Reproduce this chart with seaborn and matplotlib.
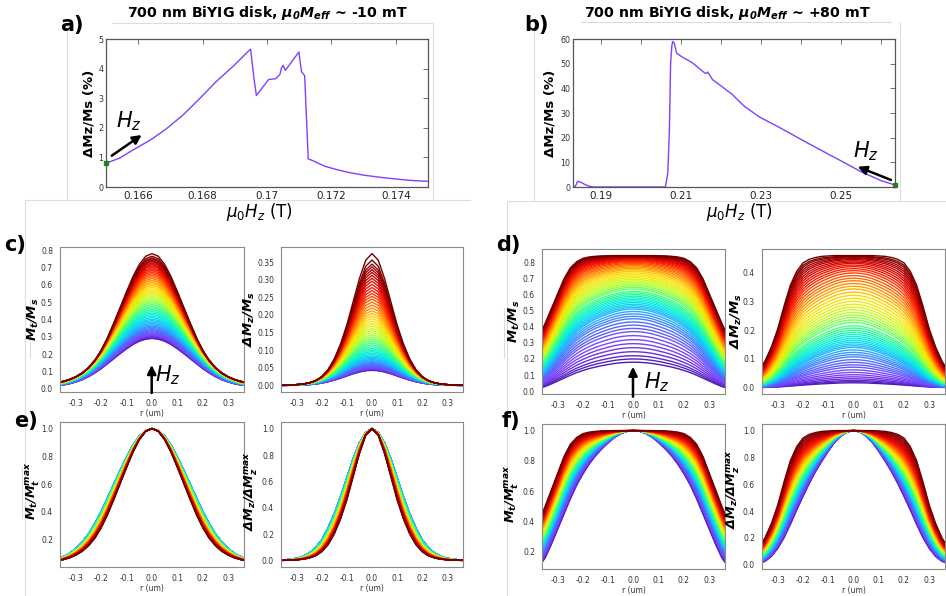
import numpy as np
import pandas as pd
import matplotlib
matplotlib.use("Agg")
import matplotlib.pyplot as plt
import seaborn as sns
from matplotlib.colors import LinearSegmentedColormap
from matplotlib.lines import Line2D
from matplotlib.patches import FancyArrowPatch
from matplotlib.ticker import FormatStrFormatter

# ---------------- data: panel a ----------------
field_a = [0.1650, 0.16543, 0.16585, 0.16637, 0.16688, 0.1674, 0.16792, 0.16843, 0.16895,
           0.16949, 0.1696, 0.16967, 0.17005, 0.17027, 0.1704, 0.17045, 0.1705,
           0.17057, 0.17099, 0.17107, 0.17117, 0.17128, 0.1714, 0.1716, 0.1718,
           0.17216, 0.1725, 0.1730, 0.1735, 0.1740, 0.1745, 0.1750]
dmz_a = [0.80, 0.98, 1.26, 1.58, 1.97, 2.44, 3.00, 3.57, 4.08,
         4.66, 3.63, 3.09, 3.63, 3.66, 3.80, 4.02, 4.11,
         3.94, 4.56, 3.90, 3.76, 0.95, 0.90, 0.80, 0.70,
         0.59, 0.50, 0.40, 0.33, 0.27, 0.22, 0.19]
a_xticks = [0.166, 0.168, 0.170, 0.172, 0.174]
a_xticklabels = ["0.166", "0.168", "0.17", "0.172", "0.174"]
a_yticks = [0, 1, 2, 3, 4, 5]

# ---------------- data: panel b ----------------
field_b = [0.1830, 0.1836, 0.18415, 0.1850, 0.1860, 0.1871, 0.1880, 0.1950, 0.2000,
           0.2061, 0.2067, 0.2071, 0.2074, 0.2077, 0.2079, 0.2083, 0.2089, 0.2100,
           0.2129, 0.2154, 0.2160, 0.2163, 0.2167, 0.2179, 0.2204, 0.2229, 0.2254,
           0.2261, 0.2296, 0.2350, 0.2400, 0.2450, 0.2500, 0.2550, 0.2600, 0.2635]
dmz_b = [0.0, 0.3, 2.3, 1.9, 1.0, 0.3, 0.0, 0.0, 0.0,
         0.0, 5.7, 23.0, 50.0, 57.0, 59.0, 58.4, 54.3, 53.0,
         50.3, 46.9, 46.2, 46.0, 46.6, 43.5, 40.5, 37.4, 33.4,
         32.4, 28.4, 23.8, 19.3, 14.9, 10.6, 6.2, 2.6, 0.8]
b_xticks = [0.19, 0.20, 0.21, 0.22, 0.23, 0.24, 0.25, 0.26]
b_xticklabels = ["0.19", "", "0.21", "", "0.23", "", "0.25", ""]
b_yticks = [0, 10, 20, 30, 40, 50, 60]

# ---------------- data: radial profiles (panels c-f) ----------------
r_half = [0.0, 0.025, 0.05, 0.075, 0.1, 0.125, 0.15, 0.175, 0.2, 0.225,
          0.25, 0.275, 0.3, 0.325, 0.35, 0.3625]
# normalized Mt profiles (low-field / high-field limits) for the -10 mT disk
c_shape_first = [1.0, 0.985, 0.945, 0.88, 0.795, 0.70, 0.60, 0.50, 0.40, 0.315,
                 0.24, 0.18, 0.135, 0.10, 0.075, 0.066]
c_shape_last = [1.0, 0.98, 0.92, 0.83, 0.72, 0.605, 0.49, 0.38, 0.285, 0.21,
                0.155, 0.115, 0.088, 0.068, 0.055, 0.050]
# peak Mt/Ms of every curve (-10 mT disk)
c_peak = [0.290, 0.293, 0.296, 0.300, 0.304, 0.308, 0.313, 0.318, 0.323, 0.329,
          0.335, 0.341, 0.348, 0.355, 0.362, 0.369, 0.377, 0.385, 0.393, 0.401,
          0.410, 0.419, 0.428, 0.437, 0.446, 0.456, 0.466, 0.476, 0.486, 0.496,
          0.506, 0.516, 0.526, 0.536, 0.546, 0.556, 0.566, 0.576, 0.586, 0.596,
          0.606, 0.616, 0.626, 0.636, 0.646, 0.656, 0.665, 0.674, 0.683, 0.692,
          0.701, 0.710, 0.718, 0.726, 0.734, 0.741, 0.748, 0.755, 0.765, 0.780]
# normalized Mt profiles (low-field / high-field limits) for the +80 mT disk
d_shape_first = [1.0, 0.995, 0.98, 0.955, 0.92, 0.88, 0.835, 0.78, 0.715, 0.64,
                 0.55, 0.45, 0.35, 0.25, 0.16, 0.13]
d_shape_last = [1.0, 1.0, 1.0, 1.0, 0.999, 0.998, 0.995, 0.99, 0.98, 0.955,
                0.91, 0.83, 0.72, 0.61, 0.50, 0.45]
# centre Mt/Ms of every curve (+80 mT disk)
d_peak = [0.180, 0.200, 0.220, 0.245, 0.270, 0.295, 0.320, 0.345, 0.370,
          0.390, 0.410, 0.430, 0.450, 0.465, 0.480,
          0.495, 0.510, 0.520, 0.530, 0.540, 0.550, 0.560, 0.570,
          0.580, 0.590, 0.600, 0.610, 0.620, 0.635, 0.645, 0.655, 0.665, 0.675,
          0.685, 0.695, 0.705, 0.715, 0.725, 0.735, 0.745, 0.755,
          0.763, 0.771, 0.779, 0.786, 0.793, 0.800, 0.806,
          0.811, 0.816, 0.820, 0.824, 0.827, 0.830, 0.833, 0.835, 0.837, 0.839, 0.840, 0.842]
r_ticks = [-0.3, -0.2, -0.1, 0.0, 0.1, 0.2, 0.3]

# ---------------- style ----------------
sns.set_style("white")
plt.rcParams["font.family"] = ["DejaVu Sans"]
plt.rcParams["text.color"] = "black"
plt.rcParams["mathtext.fontset"] = "custom"
plt.rcParams["mathtext.rm"] = "DejaVu Sans"
plt.rcParams["mathtext.it"] = "DejaVu Sans:italic"
plt.rcParams["mathtext.bf"] = "DejaVu Sans:bold:italic"
plt.rcParams["mathtext.sf"] = "DejaVu Sans"

line_color = "#8040ff"
family_cmap = LinearSegmentedColormap.from_list(
    "fam", ["#4b1ab0", "#7f3fff", "#4f6bff", "#1fb4ff", "#00f0e0", "#40ff80",
            "#c0ff20", "#ffe000", "#ff8000", "#ff1a00", "#c00000", "#700000"])

W, H = 946, 596
fig = plt.figure(figsize=(W / 100, H / 100), dpi=100)
fig.patch.set_facecolor("white")


def add_ax(l, t, r, b):
    return fig.add_axes([l / W, 1 - b / H, (r - l) / W, (b - t) / H])


def fx(x):
    return x / W


def fy(y):
    return 1 - y / H


# ---------------- faint frame lines of the composed figure ----------------
frame_segments = [
    ((112, 433), (22.5, 22.5)), ((66.7, 66.7), (22.5, 199.5)), ((433, 433), (22.5, 199.5)),
    ((25, 470), (199.5, 199.5)), ((25, 25), (199.5, 596)),
    ((581, 891), (21.7, 21.7)), ((533.7, 533.7), (21.7, 200.7)), ((900, 900), (21.7, 200.7)),
    ((506.7, 946), (200.7, 200.7)), ((506.7, 506.7), (200.7, 596)),
    ((30, 30), (299, 357)), ((21.7, 21.7), (467, 517)),
    ((504, 504), (308, 358)), ((504, 504), (472, 522)),
]
for (xs, ys) in frame_segments:
    fig.add_artist(Line2D([fx(v) for v in xs], [fy(v) for v in ys],
                          color="#dcdcdc", lw=0.8))


def style_big(ax):
    for s in ax.spines.values():
        s.set_color("#555555")
        s.set_linewidth(0.9)
    ax.tick_params(axis="both", direction="in", top=True, right=True,
                   length=3.5, width=0.6, color="#555555")
    ax.tick_params(axis="x", labelsize=7.5, labelcolor="#222222", pad=3)
    ax.tick_params(axis="y", labelsize=5.8, labelcolor="#333333", pad=2)
    ax.set_xlabel("")
    ax.set_ylabel("")


# ---------------- panel a ----------------
ax_a = add_ax(106, 39, 428, 187)
sns.lineplot(x=field_a, y=dmz_a, ax=ax_a, color=line_color, lw=1.0)
ax_a.plot(field_a[0], dmz_a[0], "s", color="#1a8a1a", ms=2.5, clip_on=False)
ax_a.set_xlim(0.165, 0.175)
ax_a.set_ylim(0, 5)
ax_a.set_xticks(a_xticks)
ax_a.set_xticklabels(a_xticklabels)
ax_a.set_yticks(a_yticks)
style_big(ax_a)

# ---------------- panel b ----------------
ax_b = add_ax(573, 39, 895, 187)
sns.lineplot(x=field_b, y=dmz_b, ax=ax_b, color=line_color, lw=1.0)
ax_b.plot(field_b[-1], dmz_b[-1], "s", color="#1a8a1a", ms=2.5, clip_on=False)
ax_b.set_xlim(0.183, 0.2635)
ax_b.set_ylim(0, 60)
ax_b.set_xticks(b_xticks)
ax_b.set_xticklabels(b_xticklabels)
ax_b.set_yticks(b_yticks)
style_big(ax_b)

# titles, labels, arrows for a/b
fig.text(fx(267), fy(13), r"700 nm BiYIG disk, $\mathbf{\mu_0 M_{eff}}$ ~ -10 mT",
         ha="center", va="center", fontsize=10.2, fontweight="bold")
fig.text(fx(727), fy(13), r"700 nm BiYIG disk, $\mathbf{\mu_0 M_{eff}}$ ~ +80 mT",
         ha="center", va="center", fontsize=10.2, fontweight="bold")
fig.text(fx(89), fy(113), "ΔMz/Ms (%)", rotation=90, ha="center", va="center",
         fontsize=9.5, fontweight="bold")
fig.text(fx(550), fy(113), "ΔMz/Ms (%)", rotation=90, ha="center", va="center",
         fontsize=9.5, fontweight="bold")
fig.text(fx(259), fy(212), r"$\mu_0 H_z$ (T)", ha="center", va="center", fontsize=12)
fig.text(fx(739), fy(212), r"$\mu_0 H_z$ (T)", ha="center", va="center", fontsize=12)

for lab, x, y in [("a)", 72, 25), ("b)", 536, 25), ("c)", 15, 245), ("d)", 508, 245),
                  ("e)", 26, 421), ("f)", 511, 421)]:
    fig.text(fx(x), fy(y), lab, ha="center", va="center", fontsize=15, fontweight="bold")


def arrow(tail, head):
    fig.add_artist(FancyArrowPatch(
        (fx(tail[0]), fy(tail[1])), (fx(head[0]), fy(head[1])),
        transform=fig.transFigure, arrowstyle="-|>", mutation_scale=13,
        color="black", lw=1.8, shrinkA=0, shrinkB=0))


arrow((111.7, 155.7), (141.7, 135))
arrow((891, 180), (857.7, 166.7))
arrow((151.7, 393), (151.7, 365))
arrow((633, 396.7), (633, 366.7))
for x, y in [(129, 121), (866, 151), (168, 375), (657, 382)]:
    fig.text(fx(x), fy(y), r"$H_z$", ha="center", va="center", fontsize=15)


# ---------------- profile families ----------------
def build_family(peaks, shape_first, shape_last, mix):
    rh = np.array(r_half)
    r_full = np.concatenate([-rh[:0:-1], rh])
    s0 = np.array(shape_first)
    s1 = np.array(shape_last)
    frames = []
    for i, (amp, m) in enumerate(zip(peaks, mix)):
        half = amp * ((1 - m) * s0 + m * s1)
        prof = np.concatenate([half[:0:-1], half])
        dmz = 1 - np.sqrt(1 - prof ** 2)
        frames.append(pd.DataFrame({"r": r_full, "Mt": prof, "dMz": dmz,
                                    "Mt_n": prof / prof.max(),
                                    "dMz_n": dmz / dmz.max(), "curve": i}))
    return pd.concat(frames, ignore_index=True)


n_c = len(c_peak)
t_c = np.arange(n_c) / (n_c - 1)
df_c = build_family(c_peak, c_shape_first, c_shape_last, np.clip((t_c - 0.3) / 0.7, 0, 1))
n_d = len(d_peak)
t_d = np.arange(n_d) / (n_d - 1)
df_d = build_family(d_peak, d_shape_first, d_shape_last, t_d)

pal_c = [family_cmap(v) for v in t_c]
pal_d = [family_cmap(v) for v in t_d]


def small_panel(box, df, col, pal, yticks, fmt):
    ax = add_ax(*box)
    sns.lineplot(data=df, x="r", y=col, hue="curve", palette=pal, legend=False,
                 ax=ax, lw=1.0, errorbar=None, sort=False)
    for s in ax.spines.values():
        s.set_color("#8a8a8a")
        s.set_linewidth(0.8)
    ax.tick_params(labelsize=5.5, length=3, width=0.6, color="#8a8a8a",
                   labelcolor="#333333", pad=2)
    ax.set_xlim(-0.3625, 0.3625)
    ax.set_xticks(r_ticks)
    ax.xaxis.set_major_formatter(FormatStrFormatter("%.1f"))
    ax.set_yticks(yticks)
    ax.yaxis.set_major_formatter(FormatStrFormatter(fmt))
    ax.set_xlabel("r (um)", fontsize=5.5, labelpad=1.0, color="#333333")
    ax.set_ylabel("")
    return ax


small_panel((60, 247, 244, 392), df_c, "Mt", pal_c, [0, .1, .2, .3, .4, .5, .6, .7, .8], "%.1f")
small_panel((281, 247, 463, 392), df_c, "dMz", pal_c,
            [0, .05, .1, .15, .2, .25, .3, .35], "%.2f")
small_panel((542, 249, 725, 394), df_d, "Mt", pal_d, [0, .1, .2, .3, .4, .5, .6, .7, .8], "%.1f")
small_panel((762, 249, 945, 394), df_d, "dMz", pal_d, [0, .1, .2, .3, .4], "%.1f")
small_panel((60, 422, 244, 567), df_c, "Mt_n", pal_c, [.2, .4, .6, .8, 1.0], "%.1f")
small_panel((281, 422, 463, 567), df_c, "dMz_n", pal_c, [0, .2, .4, .6, .8, 1.0], "%.1f")
small_panel((542, 424, 725, 569), df_d, "Mt_n", pal_d, [.2, .4, .6, .8, 1.0], "%.1f")
small_panel((762, 424, 945, 569), df_d, "dMz_n", pal_d, [0, .2, .4, .6, .8, 1.0], "%.1f")

ylabels = [
    (33, 319, r"$\mathbf{M_t/M_s}$", 9.5),
    (249, 319, r"$\mathbf{\Delta M_z/M_s}$", 9.5),
    (514, 321, r"$\mathbf{M_t/M_s}$", 9.5),
    (736, 321, r"$\mathbf{\Delta M_z/M_s}$", 9.5),
    (33, 491, r"$\mathbf{M_t/M_t^{max}}$", 9.2),
    (251, 491, r"$\mathbf{\Delta M_z/\Delta M_z^{max}}$", 9.2),
    (512, 494, r"$\mathbf{M_t/M_t^{max}}$", 9.2),
    (733, 489, r"$\mathbf{\Delta M_z/\Delta M_z^{max}}$", 9.2),
]
for x, y, s, fs in ylabels:
    fig.text(fx(x), fy(y), s, rotation=90, ha="center", va="center", fontsize=fs)

fig.savefig("out.png", dpi=100, facecolor="white")
